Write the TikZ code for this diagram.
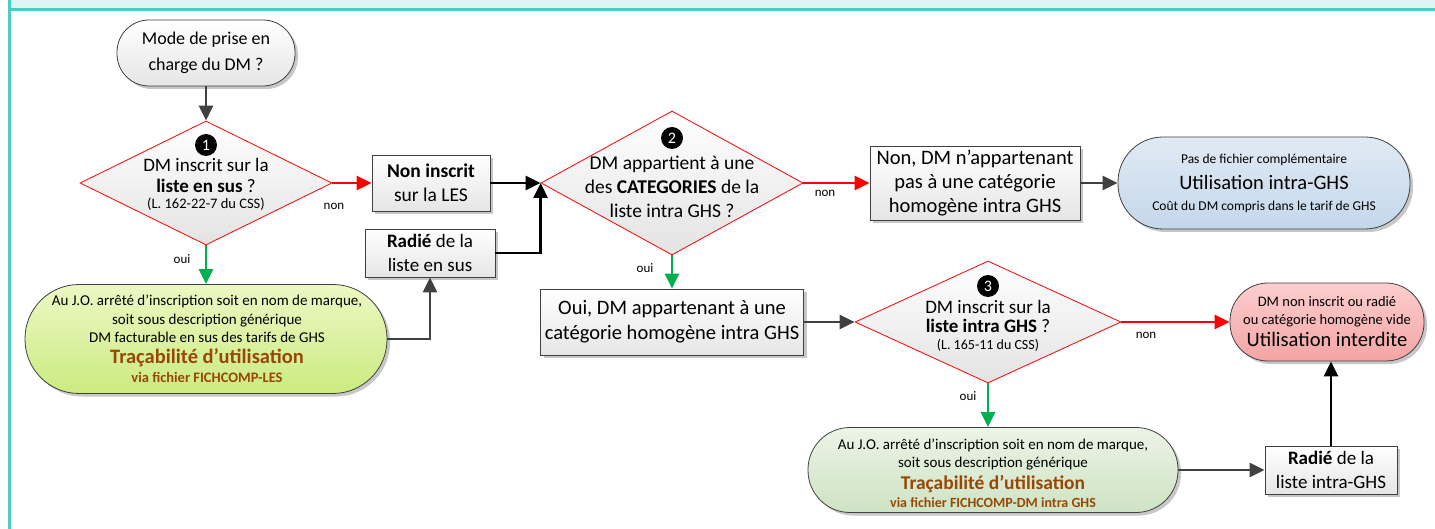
\documentclass[tikz,border=0pt]{standalone}
\usepackage{fontspec}
\setmainfont{Carlito}
\usetikzlibrary{shapes.geometric,arrows.meta,shadows}
\newcommand{\myfs}[2]{\fontsize{#1}{#2}\selectfont}
\definecolor{teal1}{HTML}{4ECDC4}
\definecolor{headfill}{HTML}{DDF5F2}
\definecolor{dk}{HTML}{404040}
\definecolor{grn}{HTML}{00B050}
\definecolor{rd}{HTML}{FF0000}
\definecolor{brn}{HTML}{974806}
\begin{document}
\begin{tikzpicture}[x=1pt,y=-1pt,
  shad/.style={drop shadow={shadow xshift=3pt,shadow yshift=-3pt,opacity=0.22,fill=black}},
  box/.style={rectangle,draw=dk,line width=0.8,top color=white,bottom color=black!10,shad,
    align=center,inner sep=1,font=\myfs{19}{24}},
  stad/.style={rectangle,draw=dk,line width=0.8,shad,inner sep=0},
  dia/.style={diamond,draw=rd,line width=0.8,top color=white,bottom color=black!11,inner sep=0},
  num/.style={circle,fill=black,text=white,inner sep=0,minimum size=22,font=\myfs{16}{16}},
  txt/.style={anchor=base,inner sep=0},
  lbl/.style={inner sep=0,font=\myfs{13}{13}},
  arr/.style={line width=2.6,-{Triangle[length=15,width=14]}},
]
\useasboundingbox (0,0) rectangle (1435,529);
% frame
\fill[headfill] (10,0) rectangle (1435,8.5);
\draw[teal1,line width=3] (8.5,9.5) -- (1435,9.5);
\draw[teal1,line width=3] (9.5,0) -- (9.5,529);

% start
\node[stad,top color=white,bottom color=black!10,rounded corners=32,minimum width=178,minimum height=66,
  align=center,font=\myfs{18}{26}] (start) at (206,53) {Mode de prise en\\charge du DM ?};

% diamond 1
\node[dia,minimum width=252,minimum height=124] (d1) at (206,183) {};
\node[num] (c1) at (206,145) {1};
\node[txt,font=\myfs{19}{22}] (d1a) at (206,172) {DM inscrit sur la};
\node[txt,font=\myfs{19}{22}] (d1b) at (206,193) {\textbf{liste en sus} ?};
\node[txt,font=\myfs{14.5}{15}] (d1c) at (206,209) {(L. 162-22-7 du CSS)};

% green stadium 1
\node[stad,top color={rgb,255:red,236;green,248;blue,196},bottom color={rgb,255:red,203;green,235;blue,128},
  rounded corners=54,minimum width=362,minimum height=109] (g1) at (206,339) {};
\node[txt,font=\myfs{15}{18}] (g1a) at (207,306) {Au J.O. arrêté d’inscription soit en nom de marque,};
\node[txt,font=\myfs{15}{18}] (g1b) at (207,324) {soit sous description générique};
\node[txt,font=\myfs{15}{18}] (g1c) at (207,342) {DM facturable en sus des tarifs de GHS};
\node[txt,font=\myfs{20.5}{24}\bfseries,text=brn] (g1d) at (207,363) {Traçabilité d’utilisation};
\node[txt,font=\myfs{14.5}{18}\bfseries,text=brn] (g1e) at (207,382) {via fichier FICHCOMP-LES};

% boxes near diamond 1
\node[box,minimum width=118,minimum height=56,font=\myfs{19.5}{24}] (ni) at (431,183) {\textbf{Non inscrit}\\sur la LES};
\node[box,minimum width=130,minimum height=48] (r1) at (430,253) {\textbf{Radié} de la\\liste en sus};

% diamond 2
\node[dia,minimum width=262,minimum height=144] (d2) at (672,183) {};
\node[num] (c2) at (672,138) {2};
\node[txt,font=\myfs{19.5}{24}] (d2a) at (672,170) {DM appartient à une};
\node[txt,font=\myfs{19.5}{24}] (d2b) at (672,194) {des \textbf{CATEGORIES} de la};
\node[txt,font=\myfs{19.5}{24}] (d2c) at (672,218) {liste intra GHS ?};

% non DM box and blue stadium
\node[box,minimum width=210,minimum height=74,font=\myfs{20.5}{24}] (nd) at (975,183) {Non, DM n’appartenant\\pas à une catégorie\\homogène intra GHS};
\node[stad,top color={rgb,255:red,224;green,234;blue,244},bottom color={rgb,255:red,196;green,215;blue,234},
  rounded corners=45,minimum width=292,minimum height=92] (bl) at (1264,183) {};
\node[txt,font=\myfs{13.5}{16}] (bla) at (1264,164) {Pas de fichier complémentaire};
\node[txt,font=\myfs{20.5}{24}] (blb) at (1264,190) {Utilisation intra-GHS};
\node[txt,font=\myfs{13.5}{16}] (blc) at (1264,211) {Coût du DM compris dans le tarif de GHS};

% oui box
\node[box,minimum width=263,minimum height=66,font=\myfs{20.5}{25}] (oui) at (672,322) {Oui, DM appartenant à une\\catégorie homogène intra GHS};

% diamond 3
\node[dia,minimum width=266,minimum height=122] (d3) at (988,322) {};
\node[num] (c3) at (988,286) {3};
\node[txt,font=\myfs{19}{22}] (d3a) at (988,313) {DM inscrit sur la};
\node[txt,font=\myfs{19}{22}] (d3b) at (988,333) {\textbf{liste intra GHS} ?};
\node[txt,font=\myfs{14}{15}] (d3c) at (988,349) {(L. 165-11 du CSS)};

% red stadium
\node[stad,top color={rgb,255:red,252;green,206;blue,206},bottom color={rgb,255:red,244;green,164;blue,164},
  rounded corners=38,minimum width=194,minimum height=78] (rs) at (1327,322) {};
\node[txt,font=\myfs{14.5}{17}] (rsa) at (1327,307) {DM non inscrit ou radié};
\node[txt,font=\myfs{14.5}{17}] (rsb) at (1327,324) {ou catégorie homogène vide};
\node[txt,font=\myfs{20.5}{24}] (rsc) at (1327,346) {Utilisation interdite};

% green stadium 2
\node[stad,top color={rgb,255:red,236;green,244;blue,230},bottom color={rgb,255:red,206;green,227;blue,196},
  rounded corners=42,minimum width=370,minimum height=85] (g2) at (993,470) {};
\node[txt,font=\myfs{15}{17}] (g2a) at (993,449) {Au J.O. arrêté d’inscription soit en nom de marque,};
\node[txt,font=\myfs{15}{17}] (g2b) at (993,467) {soit sous description générique};
\node[txt,font=\myfs{19.5}{24}\bfseries,text=brn] (g2c) at (993,489) {Traçabilité d’utilisation};
\node[txt,font=\myfs{14}{17}\bfseries,text=brn] (g2d) at (993,507) {via fichier FICHCOMP-DM intra GHS};

\node[box,minimum width=132,minimum height=48] (r2) at (1331,470) {\textbf{Radié} de la\\liste intra-GHS};

% connectors
\draw[arr,dk] (start) -- (d1.north);
\draw[arr,grn] (d1.south) -- (g1.north);
\node[lbl] (l1) at (182,259) {oui};
\draw[arr,rd] (d1.east) -- (ni.west);
\node[lbl] (l2) at (334,206) {non};
\draw[arr,dk] (g1.east) -| (r1.south);
\draw[arr,black] (ni.east) -- (d2.west);
\draw[arr,black] (r1.east) -| (d2.west);
\draw[arr,rd] (d2.east) -- (nd.west);
\node[lbl] (l3) at (825,193) {non};
\draw[arr,dk] (nd.east) -- (bl.west);
\draw[arr,grn] (d2.south) -- (oui.north);
\node[lbl] (l4) at (645,268) {oui};
\draw[arr,dk] (oui.east) -- (d3.west);
\draw[arr,rd] (d3.east) -- (rs.west);
\node[lbl] (l5) at (1146,335) {non};
\draw[arr,grn] (d3.south) -- (d3.south |- g2.north);
\node[lbl] (l6) at (968,396) {oui};
\draw[arr,dk] (g2.east) -- (r2.west);
\draw[arr,black] (r2.north) -- (r2.north |- rs.south);
\end{tikzpicture}
\end{document}
